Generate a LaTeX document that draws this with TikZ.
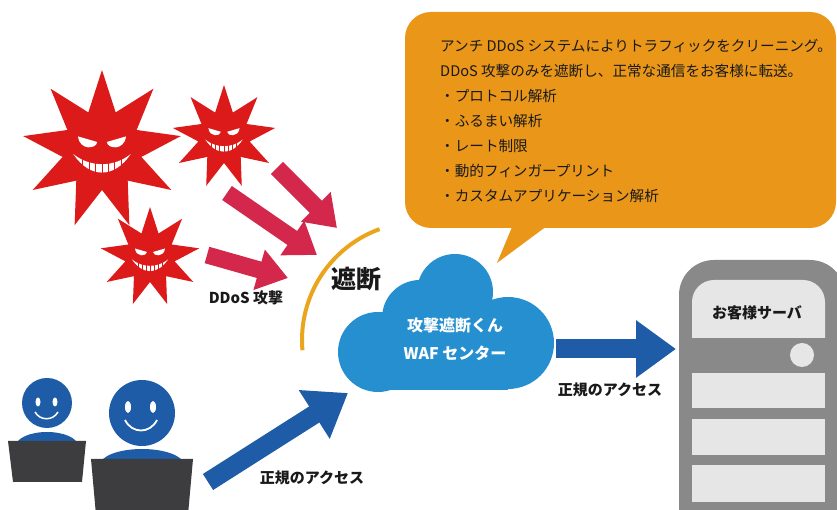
\documentclass[tikz,border=0pt]{standalone}
\usepackage{fontspec}
\setmainfont{Noto Sans CJK JP}
\usetikzlibrary{arrows.meta}

\definecolor{noteorange}{RGB}{233,150,25}
\definecolor{arcorange}{RGB}{234,165,30}
\definecolor{cloudblue}{RGB}{38,143,208}
\definecolor{accblue}{RGB}{30,92,168}
\definecolor{atkred}{RGB}{211,40,75}
\definecolor{virusred}{RGB}{220,26,26}
\definecolor{srvgray}{RGB}{137,137,137}
\definecolor{srvlight}{RGB}{230,230,230}
\definecolor{pcdark}{RGB}{61,61,63}

\begin{document}
\begin{tikzpicture}[x=1pt, y=1pt,
  lbl/.style={font=\bfseries\fontsize{15}{18}\selectfont, text=black!90},
  cloudtxt/.style={font=\bfseries\fontsize{16}{18}\selectfont, text=white},
  redarrow/.style={draw=atkred, line width=17pt, -{Triangle[width=40pt,length=30pt]}},
  bluearrow/.style={draw=accblue, line width=19pt, -{Triangle[width=55pt,length=40pt]}},
  virus/.pic={
    \fill[virusred] (90:1) \foreach \k in {1,...,17} {-- ({90+20*\k}:{1-0.5*mod(\k,2)})} -- cycle;
    \fill[white] (-0.30,0.17) -- (-0.06,0.10) .. controls (-0.07,0.01) and (-0.28,-0.01) .. cycle;
    \fill[white] (0.30,0.17) -- (0.06,0.10) .. controls (0.07,0.01) and (0.28,-0.01) .. cycle;
    \fill[white] (-0.36,-0.05) .. controls (-0.15,-0.22) and (0.15,-0.22) .. (0.36,-0.05)
      .. controls (0.15,-0.36) and (-0.15,-0.36) .. cycle;
    \foreach \t in {-3,...,3} \draw[virusred, line width=0.8pt] (0.08*\t,-0.06) -- (0.08*\t,-0.34);
  }]
\useasboundingbox (0,0) rectangle (837,510);

% attackers
\pic[scale=80] at (102,360) {virus};
\pic[scale=52] at (224,373) {virus};
\pic[scale=50] at (150,253) {virus};

\coordinate (atk1) at (277,342); \coordinate (hit1) at (337,282);
\coordinate (atk2) at (227,317); \coordinate (hit2) at (317,255);
\coordinate (atk3) at (207,255); \coordinate (hit3) at (288,232);
\draw[redarrow] (atk1) -- (hit1);
\draw[redarrow] (atk2) -- (hit2);
\draw[redarrow] (atk3) -- (hit3);
\node[lbl] (ddos) at (246,212) {DDoS 攻撃};

% blocking arc
\draw[arcorange, line width=4pt] ([shift={(420,170)}]185:118) arc[start angle=185, end angle=110, radius=118];
\node[font=\bfseries\fontsize{25}{30}\selectfont, text=black!90] (block) at (356,231) {遮断};

% callout
\fill[noteorange, rounded corners=26pt] (405,282) rectangle (836,498);
\fill[noteorange] (515,290) -- (555,290) -- (497,247) -- cycle;
\foreach \txt [count=\i] in {アンチ DDoS システムによりトラフィックをクリーニング。,
    DDoS 攻撃のみを遮断し、正常な通信をお客様に転送。,
    ・プロトコル解析, ・ふるまい解析, ・レート制限, ・動的フィンガープリント,
    ・カスタムアプリケーション解析}
  \node[anchor=base west, font=\fontsize{14.6}{18}\selectfont, text=black!90, inner sep=0pt]
    (note\i) at (440,{458-25*(\i-1)}) {\txt};

% waf cloud
\fill[cloudblue] (378,158) circle[radius=40] (420,192) circle[radius=38]
  (455,218) circle[radius=38] (508,167) circle[radius=46];
\fill[cloudblue] (378,120) rectangle (508,165) (390,120) rectangle (505,195);
\node[cloudtxt] (waf1) at (455,185) {攻撃遮断くん};
\node[cloudtxt] (waf2) at (455,157) {WAF センター};

% users
\fill[accblue] (47,107) circle[radius=25];
\fill[accblue] (47,64) ellipse[x radius=31, y radius=14];
\fill[pcdark] (8,69) -- (86,69) -- (82,28) -- (13,28) -- cycle;
\fill[white] (38,108) ellipse[x radius=2.5, y radius=4.5] (55,108) ellipse[x radius=2.5, y radius=4.5];
\draw[white, line width=1.5pt] (35,98) .. controls (40,89) and (53,89) .. (58,98);

\fill[accblue] (142,97) circle[radius=33];
\fill[accblue] (142,45) ellipse[x radius=42, y radius=16];
\fill[pcdark] (91,51) -- (193,51) -- (188,-5) -- (96,-5) -- cycle;
\fill[white] (128,103) ellipse[x radius=3, y radius=6] (153,103) ellipse[x radius=3, y radius=6];
\draw[white, line width=1.8pt] (125,90) .. controls (132,76) and (150,76) .. (157,90);

\coordinate (usr) at (208,28); \coordinate (wafin) at (348,117);
\draw[bluearrow] (usr) -- (wafin);
\node[lbl] (acc1) at (312,32) {正規のアクセス};

% server
\coordinate (wafout) at (556,161); \coordinate (srvin) at (676,161);
\draw[bluearrow] (wafout) -- (srvin);
\node[lbl] (acc2) at (610,120) {正規のアクセス};

\fill[srvgray, rounded corners=35pt] (679,-40) -- (679,250) -- (845,250) -- (845,-40) -- cycle;
\fill[srvlight] (692,172) [rounded corners=22pt] -- (692,230) -- (825,230) [sharp corners] -- (825,172) -- cycle;
\fill[srvlight] (802,155) circle[radius=12];
\foreach \lo/\hi in {102/137, 55/91, 8/45}
  \fill[srvlight] (692,\lo) rectangle (825,\hi);
\node[lbl] (srvname) at (757,197) {お客様サーバ};
\end{tikzpicture}
\end{document}
